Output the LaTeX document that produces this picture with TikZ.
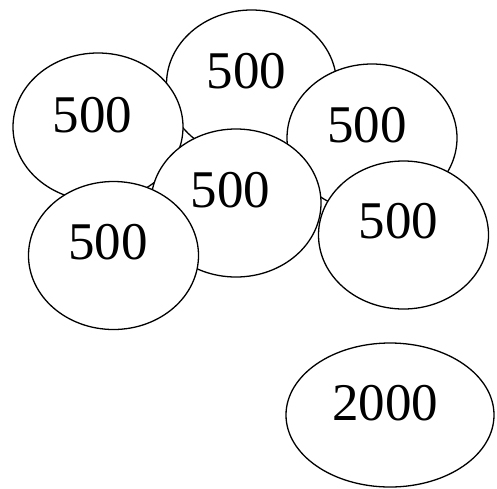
\documentclass[tikz,border=0pt]{standalone}
\usepackage{fontspec}
\setmainfont{Liberation Serif}
\usetikzlibrary{shapes.geometric}
\begin{document}
\begin{tikzpicture}[x=1pt,y=-1pt,
  coin/.style={ellipse,draw=black,line width=1.3pt,fill=white,inner sep=0pt,
    minimum width=170pt,minimum height=148pt},
  bigcoin/.style={coin,minimum width=208pt,minimum height=144pt},
  lbl/.style={font=\fontsize{53}{60}\selectfont,inner sep=0pt}]
\useasboundingbox (0,0) rectangle (497,488);
\node[coin] (c1) at (251.5,84) {};
\node[lbl] (t1) at (246.5,71.5) {500};
\node[coin] (c2) at (98,127) {};
\node[lbl] (t2) at (92.5,115) {500};
\node[coin] (c3) at (372,138) {};
\node[lbl] (t3) at (367,125.5) {500};
\node[coin] (c4) at (236,203) {};
\node[lbl] (t4) at (230.5,190) {500};
\node[coin] (c5) at (113.5,255.5) {};
\node[lbl] (t5) at (108,242) {500};
\node[coin] (c6) at (403.5,235) {};
\node[lbl] (t6) at (398.5,221.5) {500};
\node[bigcoin] (c7) at (390,415) {};
\node[lbl] (t7) at (385,403.5) {2000};
\end{tikzpicture}
\end{document}
